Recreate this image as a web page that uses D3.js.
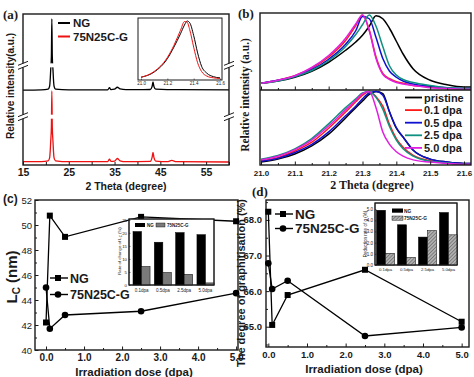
<!DOCTYPE html>
<html>
<head>
<meta charset="utf-8">
<script src="https://cdn.jsdelivr.net/npm/d3@7"></script>
<style>
  body { margin: 0; background: #fff; }
  svg { display: block; }
</style>
</head>
<body>
<svg width="474" height="377"></svg>
<script>
// ---------- data ----------
// (a) full XRD patterns, 2 theta (deg) vs intensity (a.u., traces offset)
const thetaA = [15, 19, 20.5, 20.8, 20.95, 21.05, 21.2, 21.3, 21.4, 21.55, 21.65, 21.8, 22.1, 25, 33.5, 33.9, 34.2, 35, 35.6, 36.2, 37.5, 42.8, 43.2, 43.4, 43.6, 44, 46.5, 47.5, 48.5, 60];
const ngA = [49.6, 49.8, 50.3, 52, 57, 63, 72, 96.7, 72, 63, 57, 52, 50.3, 49.8, 49.8, 51.2, 49.9, 50.2, 51.5, 50.4, 49.9, 50, 52, 55, 52, 50.2, 49.9, 49.9, 49.9, 49.8];
const n75A = [2.2, 2.3, 2.8, 4.5, 9.5, 15.5, 25, 49, 25, 15.5, 9.5, 4.5, 2.8, 2.2, 2.3, 3.8, 2.4, 2.6, 4.3, 2.8, 2.2, 2.4, 5, 8.3, 5, 2.6, 2.2, 3.0, 2.2, 2.0];
const breaksA = [66, 32];
// (a) inset, zoom of the (002) peak
const thetaInset = [21.0, 21.1, 21.2, 21.25, 21.3, 21.33, 21.35, 21.37, 21.4, 21.43, 21.46, 21.5, 21.55, 21.6];
const ngInset = [0.03, 0.12, 0.35, 0.55, 0.78, 0.93, 1.0, 0.97, 0.75, 0.45, 0.22, 0.1, 0.04, 0.02];
const n75Inset = [0.03, 0.13, 0.37, 0.58, 0.84, 0.99, 0.98, 0.85, 0.55, 0.28, 0.13, 0.05, 0.02, 0.01];
const insetTicksA = [21.0, 21.2, 21.4, 21.6];

// (b) normalised (002) peaks, top = NG, bottom = 75N25C-G
const thetaB = [21.0, 21.05, 21.1, 21.15, 21.2, 21.25, 21.28, 21.3, 21.32, 21.34, 21.36, 21.38, 21.4, 21.42, 21.45, 21.5, 21.55, 21.6];
const doseNamesB = ["pristine", "0.1 dpa", "0.5 dpa", "2.5 dpa", "5.0 dpa"];
const topPristine = [0.09, 0.12, 0.17, 0.25, 0.37, 0.53, 0.64, 0.73, 0.85, 0.99, 0.95, 0.82, 0.65, 0.48, 0.28, 0.13, 0.07, 0.04];
const top01 = [0.09, 0.13, 0.19, 0.29, 0.44, 0.66, 0.86, 1.0, 0.80, 0.44, 0.22, 0.15, 0.11, 0.09, 0.06, 0.04, 0.02, 0.01];
const top05 = [0.09, 0.13, 0.18, 0.27, 0.41, 0.61, 0.79, 0.98, 0.95, 0.70, 0.42, 0.25, 0.17, 0.12, 0.08, 0.05, 0.03, 0.02];
const top25 = [0.09, 0.12, 0.18, 0.26, 0.39, 0.58, 0.74, 0.87, 1.0, 0.85, 0.58, 0.32, 0.20, 0.14, 0.10, 0.06, 0.03, 0.02];
const top50 = [0.09, 0.13, 0.19, 0.30, 0.46, 0.69, 0.88, 1.0, 0.79, 0.42, 0.21, 0.14, 0.10, 0.08, 0.06, 0.03, 0.02, 0.01];
const botPristine = [0.04, 0.08, 0.15, 0.26, 0.42, 0.64, 0.78, 0.87, 0.96, 1.0, 0.97, 0.72, 0.50, 0.38, 0.20, 0.08, 0.04, 0.02];
const bot01 = [0.06, 0.10, 0.19, 0.31, 0.50, 0.72, 0.86, 0.95, 1.0, 0.93, 0.80, 0.55, 0.36, 0.24, 0.13, 0.06, 0.03, 0.01];
const bot05 = [0.05, 0.09, 0.17, 0.28, 0.45, 0.67, 0.80, 0.90, 0.98, 1.0, 0.95, 0.72, 0.51, 0.38, 0.20, 0.08, 0.04, 0.02];
const bot25 = [0.08, 0.13, 0.22, 0.36, 0.56, 0.78, 0.90, 0.98, 1.0, 0.92, 0.76, 0.52, 0.34, 0.22, 0.12, 0.05, 0.03, 0.01];
const bot50 = [0.07, 0.12, 0.21, 0.34, 0.53, 0.75, 0.88, 0.97, 1.0, 0.78, 0.45, 0.28, 0.18, 0.12, 0.07, 0.04, 0.02, 0.01];

// (c) crystallite size Lc vs dose
const dose = [0, 0.1, 0.5, 2.5, 5];
const lcNG = [42.2, 50.75, 49.05, 50.65, 50.3];
const lc75 = [45.0, 41.7, 42.8, 43.1, 44.55];
const insetGroups = ["0.1dpa", "0.5dpa", "2.5dpa", "5.0dpa"];
const rateLcNG = [20.5, 16.4, 20.1, 19.3];
const rateLc75 = [7.1, 4.8, 4.1, 0.8];

// (d) degree of graphitisation vs dose
const gNG = [68.23, 65.05, 65.89, 66.6, 65.14];
const g75 = [66.78, 66.06, 66.29, 64.74, 64.98];
const redGNG = [4.9, 3.6, 2.5, 4.7];
const redG75 = [1.05, 0.68, 3.08, 2.7];

// ---------- setup ----------
const SANS = "'Liberation Sans', Arial, sans-serif";
const SERIF = "'Liberation Serif', 'Times New Roman', serif";
const INK = "#1a1a1a";

const svg = d3.select("svg");
svg.append("rect").attr("width", 474).attr("height", 377).attr("fill", "#fff");
const defs = svg.append("defs");

function clip(id, b) {
  defs.append("clipPath").attr("id", id)
    .append("rect").attr("x", b.x0).attr("y", b.y0)
    .attr("width", b.x1 - b.x0).attr("height", b.y1 - b.y0);
  return `url(#${id})`;
}

function frame(g, b, w = 1.4, fill = "none") {
  g.append("rect").attr("x", b.x0).attr("y", b.y0)
    .attr("width", b.x1 - b.x0).attr("height", b.y1 - b.y0)
    .attr("fill", fill).attr("stroke", INK).attr("stroke-width", w);
}

// inside ticks, optional labels
function axis(g, gen, transform, opts) {
  const a = g.append("g").attr("transform", transform)
    .call(gen.tickSize(-(opts.len || 3)).tickPadding(opts.pad || 3));
  a.select(".domain").remove();
  a.selectAll("line").attr("stroke", INK).attr("stroke-width", opts.tw || 1);
  a.selectAll("text").attr("fill", INK)
    .style("font-family", opts.family || SANS)
    .style("font-size", (opts.size || 10) + "px")
    .style("font-weight", opts.weight || "bold");
  return a;
}

function text(g, x, y, str, o = {}) {
  const t = g.append("text").attr("x", x).attr("y", y)
    .attr("fill", INK)
    .attr("text-anchor", o.anchor || "start")
    .style("font-family", o.family || SANS)
    .style("font-size", (o.size || 10) + "px")
    .style("font-weight", o.weight || "bold");
  if (o.rotate) t.attr("transform", `rotate(-90, ${x}, ${y})`);
  t.text(str);
  return t;
}

// ---------- (a) ----------
const A = { x0: 23, x1: 229, y0: 14, y1: 165 };
const xA = d3.scaleLinear().domain([15, 60]).range([A.x0, A.x1]);
const yA = d3.scaleLinear().domain([0, 100]).range([A.y1, A.y0]);
const gA = svg.append("g");
const plotA = gA.append("g").attr("clip-path", clip("clipA", A));
const lineA = d3.line().x((d, i) => xA(thetaA[i])).y(d => yA(d)).curve(d3.curveMonotoneX);
plotA.append("path").attr("d", lineA(ngA)).attr("fill", "none").attr("stroke", "#000").attr("stroke-width", 1.3);
plotA.append("path").attr("d", lineA(n75A)).attr("fill", "none").attr("stroke", "#ee1111").attr("stroke-width", 1.3);
// axis breaks
breaksA.forEach(v => {
  plotA.append("rect").attr("x", A.x0).attr("width", A.x1 - A.x0)
    .attr("y", yA(v) - 2).attr("height", 4).attr("fill", "#fff");
});
frame(gA, A);
axis(gA, d3.axisBottom(xA).tickValues(d3.range(15, 60, 10)), `translate(0,${A.y1})`, { size: 10.5, pad: 4 });
axis(gA, d3.axisBottom(xA).tickValues(d3.range(20, 61, 10)).tickFormat(""), `translate(0,${A.y1})`, {});
breaksA.forEach(v => {
  [A.x0, A.x1].forEach(bx => {
    const by = yA(v);
    gA.append("rect").attr("x", bx - 2).attr("y", by - 2).attr("width", 4).attr("height", 4).attr("fill", "#fff");
    [-2, 2].forEach(o => {
      gA.append("line").attr("x1", bx - 5).attr("y1", by + o + 2).attr("x2", bx + 5).attr("y2", by + o - 2)
        .attr("stroke", INK).attr("stroke-width", 1);
    });
  });
});
text(gA, 126, 190, "2 Theta (degree)", { anchor: "middle", size: 10.5 });
text(gA, 14, 86, "Relative intensity(a.u.)", { anchor: "middle", size: 10, rotate: true });
text(gA, 3, 19, "(a)", { family: SERIF, size: 13 });
// legend (a)
[["NG", "#000"], ["75N25C-G", "#ee1111"]].forEach(([name, c], i) => {
  const ly = 23 + i * 13.5;
  gA.append("line").attr("x1", 58).attr("x2", 70).attr("y1", ly).attr("y2", ly).attr("stroke", c).attr("stroke-width", 2);
  text(gA, 73, ly + 4, name, { size: 11.5 });
});
// inset (a)
const IA = { x0: 138, x1: 222, y0: 18, y1: 80 };
const xIA = d3.scaleLinear().domain([21.0, 21.6]).range([141, 220]);
const yIA = d3.scaleLinear().domain([0, 1]).range([79, 21]);
frame(gA, IA, 1, "#fff");
const lineIA = d3.line().x((d, i) => xIA(thetaInset[i])).y(d => yIA(d)).curve(d3.curveMonotoneX);
gA.append("path").attr("d", lineIA(ngInset)).attr("fill", "none").attr("stroke", "#000").attr("stroke-width", 1);
gA.append("path").attr("d", lineIA(n75Inset)).attr("fill", "none").attr("stroke", "#ee1111").attr("stroke-width", 1);
axis(gA, d3.axisBottom(xIA).tickValues(insetTicksA).tickFormat(d3.format(".1f")), `translate(0,${IA.y1})`,
  { len: 1.5, pad: 2, size: 4.5, weight: "normal", tw: 0.6 });

// ---------- (b) ----------
const B = { x0: 260, x1: 471, y0: 13, y1: 165, mid: 90 };
const xB = d3.scaleLinear().domain([21.0, 21.6]).range([B.x0 + 1, B.x1 - 7]);
const yBTop = d3.scaleLinear().domain([0, 1]).range([B.mid, B.y0 + 2]);
const yBBot = d3.scaleLinear().domain([0, 1]).range([B.y1, B.mid + 1.5]);
const colorsB = ["#000000", "#ff1a1a", "#1010d0", "#109080", "#e01ee0"];
const gB = svg.append("g");
const plotBTop = gB.append("g").attr("clip-path", clip("clipBTop", { x0: B.x0, x1: B.x1, y0: B.y0, y1: B.mid }));
const plotBBot = gB.append("g").attr("clip-path", clip("clipBBot", { x0: B.x0, x1: B.x1, y0: B.mid, y1: B.y1 }));
const topB = [topPristine, top01, top05, top25, top50];
const botB = [botPristine, bot01, bot05, bot25, bot50];
// extend the last sample to the frame edge so the traces reach the right border
const xEnd = xB.invert(B.x1);
topB.forEach((s, k) => {
  const ln = d3.line().x((d, i) => xB(i < thetaB.length ? thetaB[i] : xEnd)).y(d => yBTop(d)).curve(d3.curveMonotoneX);
  plotBTop.append("path").attr("d", ln(s.concat(s[s.length - 1]))).attr("fill", "none").attr("stroke", colorsB[k]).attr("stroke-width", 1.5);
});
botB.forEach((s, k) => {
  const ln = d3.line().x((d, i) => xB(i < thetaB.length ? thetaB[i] : xEnd)).y(d => yBBot(d)).curve(d3.curveMonotoneX);
  plotBBot.append("path").attr("d", ln(s.concat(s[s.length - 1]))).attr("fill", "none").attr("stroke", colorsB[k]).attr("stroke-width", 1.5);
});
frame(gB, B);
gB.append("line").attr("x1", B.x0).attr("x2", B.x1).attr("y1", B.mid).attr("y2", B.mid).attr("stroke", INK).attr("stroke-width", 1.4);
[B.mid, B.y1].forEach(yy => {
  axis(gB, d3.axisBottom(xB).tickValues(d3.range(21.0, 21.61, 0.1)).tickFormat(yy === B.y1 ? d3.format(".1f") : ""),
    `translate(0,${yy})`, { size: 8, pad: 5, len: 3.5 });
  axis(gB, d3.axisBottom(xB).tickValues(d3.range(21.05, 21.6, 0.1)).tickFormat(""), `translate(0,${yy})`, { len: 2 });
});
text(gB, 372, 189, "2 Theta (degree)", { anchor: "middle", size: 12, family: SERIF });
text(gB, 249, 95, "Relative intensity (a.u.)", { anchor: "middle", size: 11.5, family: SERIF, rotate: true });
text(gB, 238, 18, "(b)", { family: SERIF, size: 13 });
doseNamesB.forEach((name, k) => {
  const ly = 97.5 + k * 12.6;
  gB.append("line").attr("x1", 405).attr("x2", 422).attr("y1", ly).attr("y2", ly).attr("stroke", colorsB[k]).attr("stroke-width", 1.8);
  text(gB, 424, ly + 4, name, { size: 11 });
});

// ---------- shared drawing for (c) and (d) ----------
function markers(g, xs, ys, xScale, yScale, kind) {
  const pts = g.append("g");
  ys.forEach((v, i) => {
    const px = xScale(xs[i]), py = yScale(v);
    if (kind === "square") pts.append("rect").attr("x", px - 3).attr("y", py - 3).attr("width", 6).attr("height", 6).attr("fill", "#000");
    else pts.append("circle").attr("cx", px).attr("cy", py).attr("r", 3.3).attr("fill", "#000");
  });
}
function series(g, xs, ys, xScale, yScale, kind) {
  const ln = d3.line().x((d, i) => xScale(xs[i])).y(d => yScale(d));
  g.append("path").attr("d", ln(ys)).attr("fill", "none").attr("stroke", "#000").attr("stroke-width", 1.3);
  markers(g, xs, ys, xScale, yScale, kind);
}
function legendMain(g, x, y, gap, size) {
  [["NG", "square"], ["75N25C-G", "circle"]].forEach(([name, kind], i) => {
    const ly = y + i * gap;
    g.append("line").attr("x1", x).attr("x2", x + 18).attr("y1", ly).attr("y2", ly).attr("stroke", "#000").attr("stroke-width", 1.4);
    markers(g, [x + 8], [ly], d => d, d => d, kind);
    text(g, x + 20, ly + size * 0.36, name, { size });
  });
}

// ---------- (c) ----------
const C = { x0: 35, x1: 238, y0: 200, y1: 350 };
const xC = d3.scaleLinear().domain([-0.29, 5.05]).range([C.x0, C.x1]);
const yC = d3.scaleLinear().domain([40, 52]).range([C.y1, C.y0]);
const gC = svg.append("g");
frame(gC, C);
axis(gC, d3.axisBottom(xC).tickValues(d3.range(0, 6, 1)), `translate(0,${C.y1})`, { size: 10, pad: 4, len: 3.5 });
axis(gC, d3.axisBottom(xC).tickValues(d3.range(0.5, 5, 1)).tickFormat(""), `translate(0,${C.y1})`, { len: 2 });
axis(gC, d3.axisLeft(yC).tickValues(d3.range(40, 53, 2)), `translate(${C.x0},0)`, { size: 9.5, pad: 3, len: 3.5, weight: "normal" });
axis(gC, d3.axisLeft(yC).tickValues(d3.range(41, 52, 2)).tickFormat(""), `translate(${C.x0},0)`, { len: 2 });
series(gC, dose, lcNG, xC, yC, "square");
series(gC, dose, lc75, xC, yC, "circle");
legendMain(gC, 50, 278, 16.5, 12.5);
text(gC, 134, 376, "Irradiation dose (dpa)", { anchor: "middle", size: 11.5 });
const lcLab = text(gC, 17, 277, "L", { anchor: "middle", size: 15, rotate: true });
lcLab.append("tspan").attr("dy", 3).style("font-size", "10px").text("C");
lcLab.append("tspan").attr("dy", -3).text(" (nm)");
text(gC, 3, 203, "(c)", { size: 12 });
// inset (c)
const IC = { x0: 129, x1: 214, y0: 219, y1: 285 };
const bandC = d3.scaleBand().domain(insetGroups).range([133, 214]).paddingInner(0.2).align(0);
const subC = d3.scaleBand().domain([0, 1]).range([0, bandC.bandwidth()]);
const yIC = d3.scaleLinear().domain([0, 25.3]).range([IC.y1, IC.y0]);
frame(gC, IC, 1, "#fff");
insetGroups.forEach((grp, i) => {
  [rateLcNG[i], rateLc75[i]].forEach((v, k) => {
    gC.append("rect").attr("x", bandC(grp) + subC(k)).attr("y", yIC(v))
      .attr("width", subC.bandwidth()).attr("height", yIC(0) - yIC(v))
      .attr("fill", k ? "#7a7a7a" : "#000").attr("stroke", "#000").attr("stroke-width", 0.5);
  });
});
frame(gC, IC, 1);
axis(gC, d3.axisLeft(yIC).tickValues(d3.range(0, 26, 5)), `translate(${IC.x0},0)`, { len: 1.5, pad: 2, size: 4.3, weight: "normal", tw: 0.6 });
axis(gC, d3.axisBottom(bandC).tickSize(0), `translate(0,${IC.y1})`, { len: 0, pad: 4, size: 4.5, weight: "normal" })
  .selectAll("line").remove();
const rcLab = text(gC, 121, 251, "Rate of change of L", { anchor: "middle", size: 4.3, weight: "normal", rotate: true });
rcLab.append("tspan").attr("dy", 1).style("font-size", "3px").text("C");
rcLab.append("tspan").attr("dy", -1).text(" (%)");
gC.append("rect").attr("x", 135).attr("y", 223).attr("width", 10).attr("height", 4).attr("fill", "#000");
text(gC, 147, 227, "NG", { size: 4.5 });
gC.append("rect").attr("x", 156).attr("y", 223).attr("width", 9).attr("height", 4).attr("fill", "#7a7a7a").attr("stroke", "#000").attr("stroke-width", 0.4);
text(gC, 167, 227, "75N25C-G", { size: 4.5 });

// ---------- (d) ----------
const D = { x0: 266, x1: 469, y0: 200, y1: 347 };
const xD = d3.scaleLinear().domain([-0.06, 5.19]).range([D.x0, D.x1]);
const yD = d3.scaleLinear().domain([64.43, 68.56]).range([D.y1, D.y0]);
const gD = svg.append("g");
frame(gD, D);
axis(gD, d3.axisBottom(xD).tickValues(d3.range(0, 6, 1)), `translate(0,${D.y1})`, { size: 9.5, pad: 4, len: 3.5 });
axis(gD, d3.axisBottom(xD).tickValues(d3.range(0.5, 5, 1)).tickFormat(""), `translate(0,${D.y1})`, { len: 2 });
axis(gD, d3.axisLeft(yD).tickValues(d3.range(65, 69, 1)), `translate(${D.x0},0)`, { size: 9.5, pad: 4, len: 3.5 });
axis(gD, d3.axisLeft(yD).tickValues([64.5, 65.5, 66.5, 67.5, 68.5]).tickFormat(""), `translate(${D.x0},0)`, { len: 2 });
series(gD, dose, gNG, xD, yD, "square");
series(gD, dose, g75, xD, yD, "circle");
legendMain(gD, 275, 214, 14.5, 13.5);
text(gD, 364, 373, "Irradiation dose (dpa)", { anchor: "middle", size: 11.5 });
text(gD, 245, 283, "The degree of graphitisation (%)", { anchor: "middle", size: 11, rotate: true });
text(gD, 252, 196, "(d)", { family: SERIF, size: 13 });
// inset (d) with hatched bars
const hatch = defs.append("pattern").attr("id", "hatchD").attr("patternUnits", "userSpaceOnUse")
  .attr("width", 2.5).attr("height", 2.5).attr("patternTransform", "rotate(45)");
hatch.append("rect").attr("width", 2.5).attr("height", 2.5).attr("fill", "#b0b0b0");
hatch.append("line").attr("x1", 0).attr("y1", 0).attr("x2", 0).attr("y2", 2.5).attr("stroke", "#444").attr("stroke-width", 0.9);
const ID = { x0: 375, x1: 457, y0: 203, y1: 265 };
const bandD = d3.scaleBand().domain(insetGroups).range([376.5, 457.5]).paddingInner(0.14).align(0);
const subD = d3.scaleBand().domain([0, 1]).range([0, bandD.bandwidth()]);
const yID = d3.scaleLinear().domain([0, 5.55]).range([ID.y1, ID.y0]);
frame(gD, ID, 1, "#fff");
insetGroups.forEach((grp, i) => {
  [redGNG[i], redG75[i]].forEach((v, k) => {
    gD.append("rect").attr("x", bandD(grp) + subD(k)).attr("y", yID(v))
      .attr("width", subD.bandwidth()).attr("height", yID(0) - yID(v))
      .attr("fill", k ? "url(#hatchD)" : "#000").attr("stroke", "#000").attr("stroke-width", 0.5);
  });
});
frame(gD, ID, 1);
axis(gD, d3.axisLeft(yID).tickValues(d3.range(0, 6, 1)), `translate(${ID.x0},0)`, { len: 1.5, pad: 2, size: 4.5, weight: "normal", tw: 0.6 });
axis(gD, d3.axisBottom(bandD).tickSize(0), `translate(0,${ID.y1})`, { len: 0, pad: 3, size: 4.3, weight: "normal" })
  .selectAll("line").remove();
text(gD, 367, 234, "Reduction rate of g (%)", { anchor: "middle", size: 4.5, weight: "normal", rotate: true });
gD.append("rect").attr("x", 392).attr("y", 208.5).attr("width", 11).attr("height", 4.2).attr("fill", "#000");
text(gD, 404, 212.5, "NG", { size: 4.8 });
gD.append("rect").attr("x", 392).attr("y", 216).attr("width", 11).attr("height", 4.2).attr("fill", "url(#hatchD)").attr("stroke", "#000").attr("stroke-width", 0.4);
text(gD, 404, 220, "75N25C-G", { size: 4.8 });
</script>
</body>
</html>
